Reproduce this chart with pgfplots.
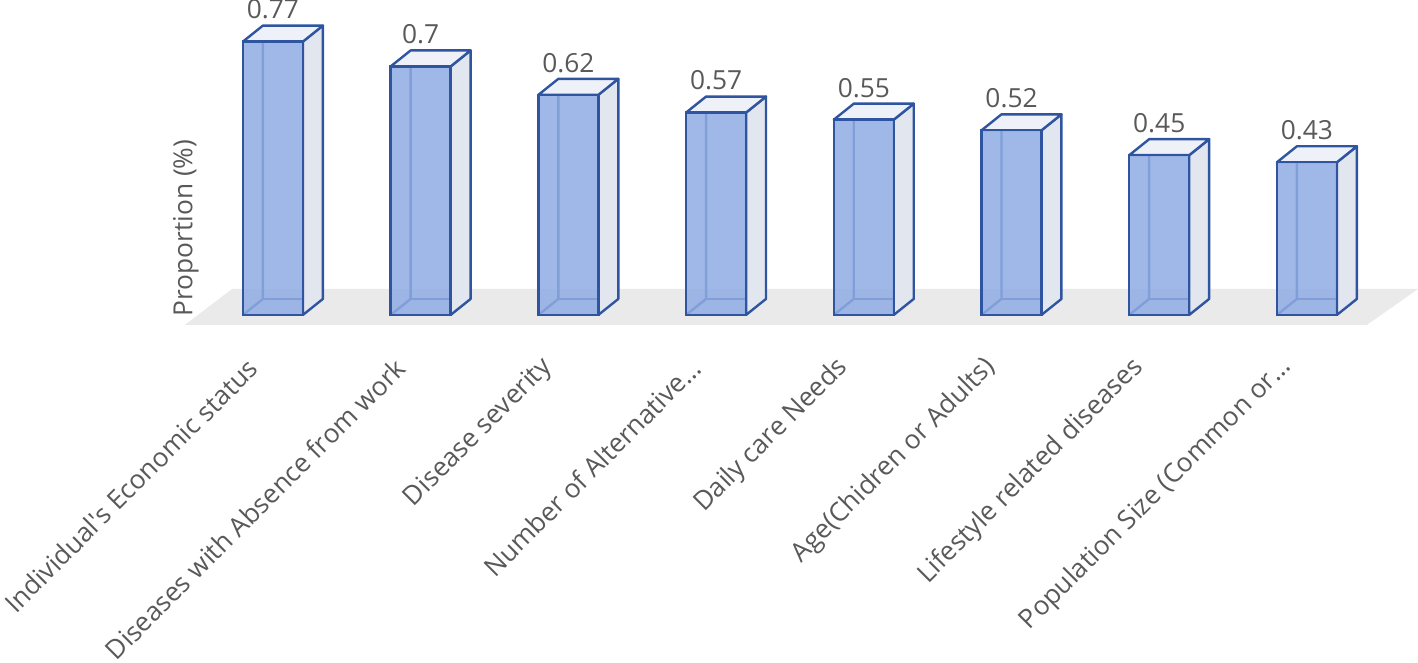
\documentclass[border=0pt]{standalone}
\usepackage{pgfplots}
\pgfplotsset{compat=1.18}
\usepackage{pgfplotstable}
\usepackage{fontspec}
\setmainfont{Open Sans}

\definecolor{edge}{RGB}{47,85,160}
\definecolor{frontc}{RGB}{143,172,228}
\definecolor{sidec}{RGB}{226,230,239}
\definecolor{topc}{RGB}{238,241,248}
\definecolor{floorc}{RGB}{234,234,234}
\definecolor{textgray}{RGB}{89,89,89}

% x: category index, v: proportion, lab: data label
\pgfplotstableread{
x v lab
0 0.77 0.77
1 0.70 0.7
2 0.62 0.62
3 0.57 0.57
4 0.55 0.55
5 0.52 0.52
6 0.45 0.45
7 0.43 0.43
}\data

\newcommand\lblfont{\fontsize{13.2}{16}\selectfont}

\begin{document}
\begin{tikzpicture}
\begin{axis}[x=73.85bp, y=177.5bp,
    xmin=-1.848, xmax=7.752, ymin=-0.132, ymax=0.887,
    axis line style={draw=none}, tick style={draw=none},
    ytick=\empty, xtick={0,...,7},
    xticklabels={Individual\textquotesingle s Economic status,
        Diseases with Absence from work, Disease severity,
        Number of Alternative…, Daily care Needs,
        Age(Chidren or Adults), Lifestyle related diseases,
        Population Size (Common or…},
    x tick label style={rotate=45, anchor=east, inner sep=0pt,
        font=\lblfont, text=textgray, xshift=-7.5bp, yshift=6.5bp},
    ylabel={Proportion (\%)},
    every axis y label/.style={at={(0.1311,0.370)}, rotate=90, anchor=center,
        font=\lblfont, text=textgray},
    clip=false]

% floor
\addplot[fill=floorc, draw=none, forget plot] coordinates {
(-0.596,-0.028) (7.407,-0.028) (7.752,0.073) (-0.278,0.073)} -- cycle;

% depth of each column: back edges, side and top faces
\pgfplotsinvokeforeach{0,...,7}{
  \pgfplotstablegetelem{#1}{v}\of\data
  \pgfmathsetmacro\vv{\pgfplotsretval}
  \pgfmathsetmacro\xl{#1-0.203}
  \pgfmathsetmacro\xr{#1+0.203}
  \pgfmathsetmacro\xlb{#1-0.203+0.135}
  \pgfmathsetmacro\xrb{#1+0.203+0.135}
  \pgfmathsetmacro\vb{\vv+0.045}
  \addplot[edge, line width=1.2bp, forget plot] coordinates {(\xl,0) (\xlb,0.045) (\xlb,\vb)};
  \addplot[edge, line width=1.2bp, forget plot] coordinates {(\xlb,0.045) (\xrb,0.045)};
  \addplot[fill=sidec, draw=edge, line width=1.2bp, line join=round, forget plot]
    coordinates {(\xr,0) (\xrb,0.045) (\xrb,\vb) (\xr,\vv)} -- cycle;
  \addplot[fill=topc, draw=edge, line width=1.2bp, line join=round, forget plot]
    coordinates {(\xl,\vv) (\xlb,\vb) (\xrb,\vb) (\xr,\vv)} -- cycle;
}

% front faces
\addplot[ybar, bar width=0.406, bar shift=0pt, fill=frontc, fill opacity=0.85,
    draw=edge, line width=1.2bp,
    nodes near coords, point meta=explicit symbolic,
    nodes near coords style={anchor=south, inner sep=0pt, yshift=10.5bp,
        font=\lblfont, text=textgray, text opacity=1}]
    table[x=x, y=v, meta=lab] {\data};

\coordinate (bbsw) at (axis cs:-1.848,-0.980);
\coordinate (bbne) at (axis cs:7.752,0.887);
\end{axis}
\pgfresetboundingbox
\path[use as bounding box] (bbsw) rectangle (bbne);
\end{tikzpicture}
\end{document}
